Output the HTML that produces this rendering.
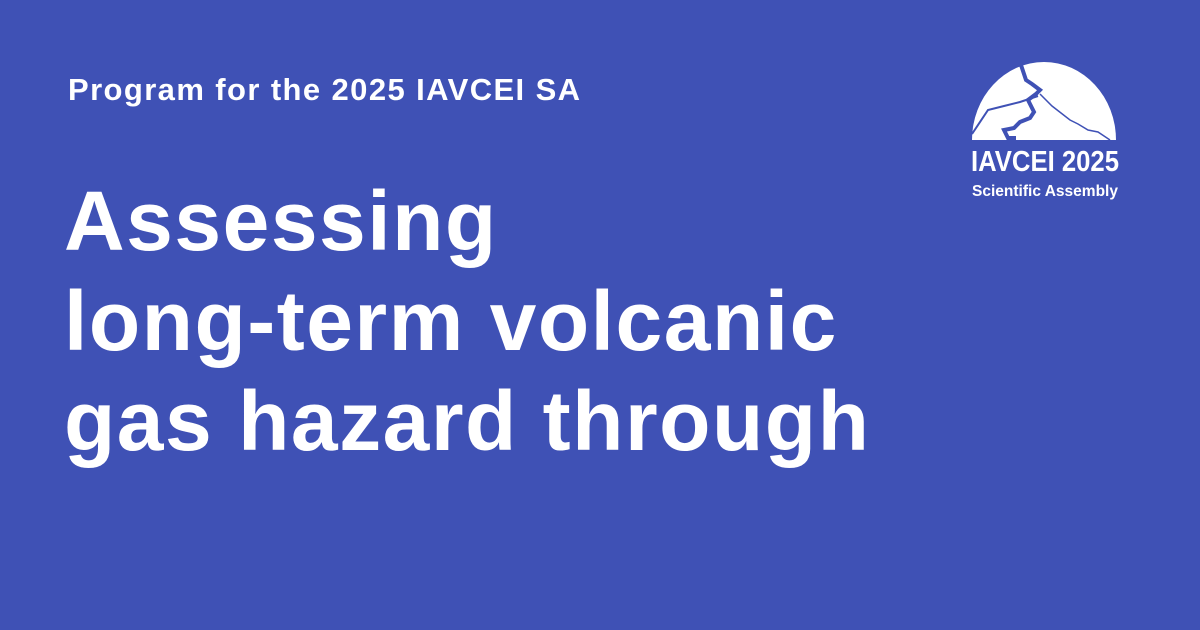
<!DOCTYPE html>
<html><head><meta charset="utf-8"><style>
html,body{margin:0;padding:0}
body{width:1200px;height:630px;background:#3f51b5;position:relative;overflow:hidden;font-family:"Liberation Sans",Arial,sans-serif;color:#fff}
#sub{position:absolute;left:68px;top:70px;font-size:31px;font-weight:bold;line-height:40px;letter-spacing:1.4px;white-space:nowrap}
#title{position:absolute;left:64px;top:171px;font-size:84px;font-weight:bold;line-height:100px;letter-spacing:1.5px;white-space:nowrap}
#logo{position:absolute;left:960px;top:50px}
</style></head><body>
<div id="sub">Program for the 2025 IAVCEI SA</div>
<div id="title">Assessing<br>long-term volcanic<br>gas hazard through</div>
<svg id="logo" width="170" height="160" viewBox="0 0 170 160">
<path d="M12,90 A72,78 0 0 1 156,90 Z" fill="#fff"/>
<path d="M60,12 L66,30 L72,34 L80,40 L76,44 L68,50 L74,62 L70,68 L60,72 L54,78 L44,80 L48,88 L56,88" fill="none" stroke="#3f51b5" stroke-width="4"/>
<path d="M80,44 L92,56 L110,70 L118,74 L128,80 L138,82 L150,90" fill="none" stroke="#3f51b5" stroke-width="1.5"/>
<path d="M12,84 L28,60 L44,56 L60,52 L72,48 L78,46" fill="none" stroke="#3f51b5" stroke-width="2"/>
<text x="85" y="121" text-anchor="middle" font-family="Liberation Sans Narrow,Liberation Sans,sans-serif" font-size="29" font-weight="bold" fill="#fff" textLength="148" lengthAdjust="spacingAndGlyphs">IAVCEI 2025</text>
<text x="85" y="146" text-anchor="middle" font-family="Liberation Sans Narrow,Liberation Sans,sans-serif" font-size="16" font-weight="bold" fill="#fff" textLength="146" lengthAdjust="spacingAndGlyphs">Scientific Assembly</text>
</svg>
</body></html>
